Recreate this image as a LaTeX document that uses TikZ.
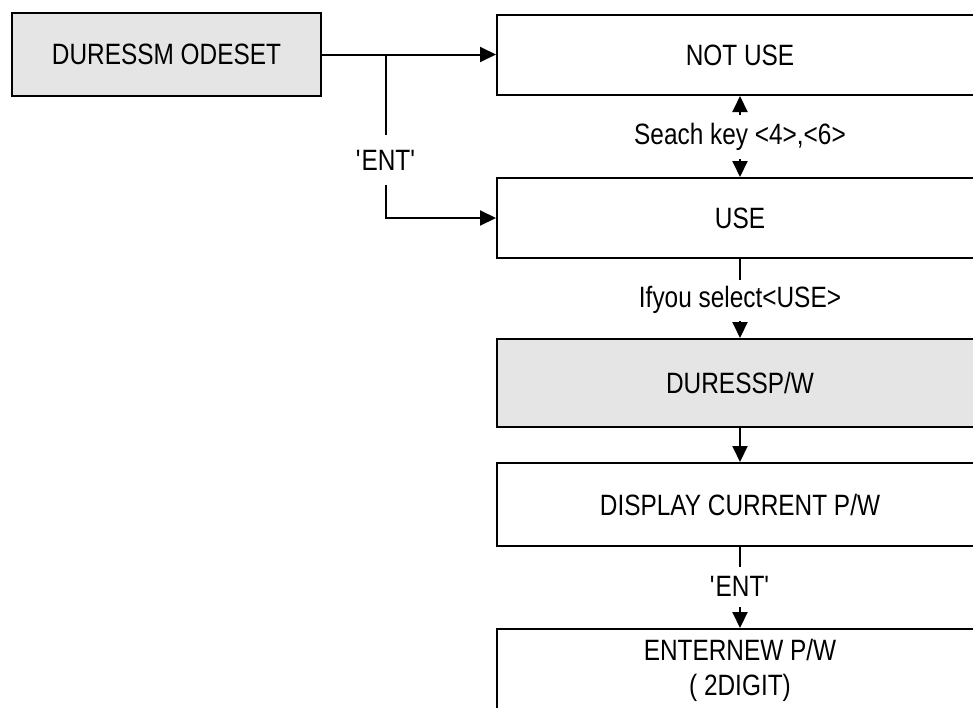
\documentclass[tikz,border=0pt]{standalone}
\usepackage{fontspec}
\setmainfont{Liberation Sans}[FakeStretch=0.83]
\usetikzlibrary{arrows.meta}
\begin{document}
\begin{tikzpicture}[x=0.5pt,y=-0.5pt,
	font=\fontsize{14.7}{17.5}\selectfont,
	>={Triangle[length=8pt,width=7.5pt]},
	box/.style={draw,line width=1pt,minimum width=243pt,minimum height=40pt,inner sep=0pt,align=center},
	grey/.style={fill=black!10},
	gap/.style={fill=white,inner xsep=1pt,inner ysep=0pt,minimum height=#1}]
			\clip (0,0) rectangle (973,707);
			\coordinate (M) at (166.5,54.5);
			\coordinate (N) at (740,55);
			\coordinate (U) at (740,218);
			\coordinate (P) at (740,383);
			\coordinate (C) at (740,504.5);
			\coordinate (E) at (740,670.5);
			\coordinate (br) at (386,54.5);
			\node[box,grey,minimum width=154.5pt,minimum height=41.5pt] (mode) at (M) {DURESSM ODESET};
			\node[box] (notuse) at (N) {NOT USE};
			\node[box] (use) at (U) {USE};
			\node[box,grey,minimum height=44pt] (pw) at (P) {DURESSP/W};
			\node[box,minimum height=41.5pt] (display) at (C) {DISPLAY CURRENT P/W};
			\node[box,minimum height=41.5pt] (enter) at (E) {ENTERNEW P/W\\( 2DIGIT)};
			\draw[line width=1pt,->] (mode.east) -- (mode.east -| notuse.west);
			\draw[line width=1pt,->] (br) -- node[gap=25pt,pos=0.645] {\textquotesingle ENT\textquotesingle} (br |- use.west) -- (use.west);
			\draw[line width=1pt,<->] (notuse.south) -- node[gap=22pt] {Seach key <4>,<6>} (use.north);
			\draw[line width=1pt,->] (use.south) -- node[gap=20.5pt,pos=0.52] {Ifyou select<USE>} (pw.north);
			\draw[line width=1pt,->] (pw.south) -- (display.north);
			\draw[line width=1pt,->] (display.south) -- node[gap=20pt,pos=0.49] {\textquotesingle ENT\textquotesingle} (enter.north);
		\end{tikzpicture}
\end{document}
